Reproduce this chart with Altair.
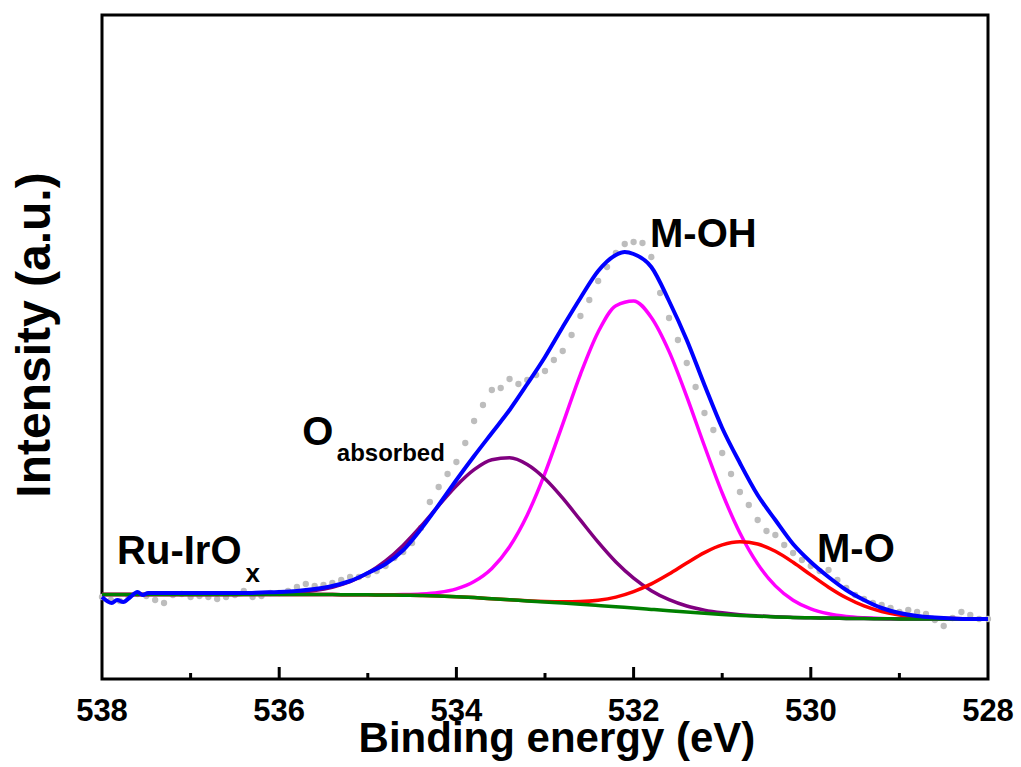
import altair as alt
import pandas as pd

FONT = "Liberation Sans"

# Binding energy grid (eV) of the fitted components
be_fit = [538.0, 537.8, 537.6, 537.4, 537.2, 537.0, 536.8, 536.6, 536.4, 536.2,
          536.0, 535.8, 535.6, 535.4, 535.2, 535.0, 534.8, 534.6, 534.4, 534.2,
          534.0, 533.8, 533.6, 533.4, 533.2, 533.0, 532.8, 532.6, 532.4, 532.2,
          532.0, 531.8, 531.6, 531.4, 531.2, 531.0, 530.8, 530.6, 530.4, 530.2,
          530.0, 529.8, 529.6, 529.4, 529.2, 529.0, 528.8, 528.6, 528.4, 528.2,
          528.0]

# Shirley-type background
background = [84.5, 84.5, 84.5, 84.5, 84.5, 84.5, 84.5, 84.5, 84.5, 84.5,
              84.5, 84.5, 84.5, 84.4, 84.3, 84.2, 84.0, 83.8, 83.5, 83.0,
              82.3, 81.4, 80.3, 79.2, 78.1, 77.0, 76.0, 74.8, 73.5, 72.2,
              71.0, 69.6, 68.2, 66.9, 65.7, 64.6, 63.6, 62.8, 62.1, 61.6,
              61.2, 60.9, 60.6, 60.4, 60.2, 60.1, 60.0, 60.0, 60.0, 60.0,
              60.0]

# M-OH component (on background)
m_oh = [84.5, 84.5, 84.5, 84.5, 84.5, 84.5, 84.5, 84.5, 84.5, 84.5,
        84.5, 84.5, 84.5, 84.4, 84.3, 84.2, 84.2, 84.4, 85.0, 86.6,
        90.2, 97.5, 110.6, 132.3, 164.1, 205.9, 254.9, 304.7, 347.0, 373.3,
        378.1, 361.5, 327.6, 282.4, 233.0, 186.0, 146.0, 115.1, 93.1, 78.8,
        70.1, 65.2, 62.5, 61.2, 60.5, 60.2, 60.0, 60.0, 60.0, 60.0,
        60.0]

# O absorbed component (on background)
o_abs = [84.5, 84.5, 84.5, 84.5, 84.5, 84.5, 84.5, 84.5, 84.7, 84.9,
         85.4, 86.5, 88.4, 91.8, 97.3, 105.9, 118.0, 133.8, 152.8, 173.4,
         193.2, 209.3, 219.2, 221.2, 214.5, 200.3, 180.9, 158.8, 136.8, 117.0,
         100.9, 88.3, 79.3, 73.0, 68.9, 66.2, 64.3, 63.1, 62.2, 61.6,
         61.2, 60.9, 60.6, 60.4, 60.2, 60.1, 60.0, 60.0, 60.0, 60.0,
         60.0]

# M-O component (on background)
m_o = [84.5, 84.5, 84.5, 84.5, 84.5, 84.5, 84.5, 84.5, 84.5, 84.5,
       84.5, 84.5, 84.5, 84.4, 84.3, 84.2, 84.0, 83.8, 83.5, 83.0,
       82.3, 81.4, 80.3, 79.2, 78.3, 77.6, 77.3, 77.5, 78.8, 81.9,
       87.4, 95.1, 105.0, 116.0, 126.4, 134.1, 137.2, 135.0, 127.7, 116.7,
       104.1, 91.8, 81.2, 73.1, 67.5, 64.0, 61.9, 60.9, 60.4, 60.2,
       60.1]

# Fitted envelope
be_env = [538.0, 537.89, 537.83, 537.76, 537.68, 537.6, 537.54, 537.48, 537.4, 537.2,
          537.0, 536.8, 536.6, 536.4, 536.2, 536.0, 535.8, 535.6, 535.4, 535.2,
          535.0, 534.8, 534.6, 534.4, 534.2, 534.0, 533.8, 533.6, 533.4, 533.2,
          533.0, 532.8, 532.6, 532.4, 532.2, 532.1, 532.0, 531.8, 531.6, 531.4,
          531.2, 531.0, 530.8, 530.6, 530.4, 530.2, 530.0, 529.8, 529.6, 529.4,
          529.2, 529.0, 528.8, 528.6, 528.4, 528.2, 528.0]
envelope = [82, 76, 79, 77, 82, 87, 84, 86, 86, 86,
            86, 86, 86, 86, 86.5, 87, 88, 90, 93, 98,
            106, 115, 129, 150, 174, 199, 223, 246, 269, 295,
            322, 352, 381, 408, 424, 427, 425, 412, 378, 339,
            294, 251, 216, 184, 159, 135, 117, 102, 89, 79,
            71, 66, 63, 61.5, 60.5, 60, 60]

# Measured spectrum, 0.1 eV step
be_raw = [538.0, 537.9, 537.8, 537.7, 537.6, 537.5, 537.4, 537.3, 537.2, 537.1,
          537.0, 536.9, 536.8, 536.7, 536.6, 536.5, 536.4, 536.3, 536.2, 536.1,
          536.0, 535.9, 535.8, 535.7, 535.6, 535.5, 535.4, 535.3, 535.2, 535.1,
          535.0, 534.9, 534.8, 534.7, 534.6, 534.5, 534.4, 534.3, 534.2, 534.1,
          534.0, 533.9, 533.8, 533.7, 533.6, 533.5, 533.4, 533.3, 533.2, 533.1,
          533.0, 532.9, 532.8, 532.7, 532.6, 532.5, 532.4, 532.3, 532.2, 532.1,
          532.0, 531.9, 531.8, 531.7, 531.6, 531.5, 531.4, 531.3, 531.2, 531.1,
          531.0, 530.9, 530.8, 530.7, 530.6, 530.5, 530.4, 530.3, 530.2, 530.1,
          530.0, 529.9, 529.8, 529.7, 529.6, 529.5, 529.4, 529.3, 529.2, 529.1,
          529.0, 528.9, 528.8, 528.7, 528.6, 528.5, 528.4, 528.3, 528.2, 528.1,
          528.0]
raw = [82, 79, 78, 82, 85, 83, 79, 76, 84, 85,
       82, 83, 82, 80, 82, 84, 88, 82, 83, 86,
       86, 88, 92, 95, 93, 94, 96, 99, 102, 102,
       104, 108, 113, 121, 127, 136, 151, 177, 192, 205,
       217, 236, 258, 274, 289, 291, 300, 295, 299, 304,
       308, 319, 328, 344, 363, 379, 398, 412, 426, 435,
       437, 436, 422, 386, 361, 339, 316, 292, 266, 249,
       226, 205, 187, 174, 159, 148, 144, 134, 126, 119,
       113, 108, 109, 99, 91, 84, 80, 76, 74, 71,
       67, 69, 67, 65, 59, 53, 61, 67, 64, 60,
       60]

x_labels = [538, 536, 534, 532, 530, 528]
major_ticks = [536, 534, 532, 530]
minor_ticks = [537, 535, 533, 531, 529]

x_scale = alt.Scale(domain=[528, 538], reverse=True, nice=False, zero=False)
y_scale = alt.Scale(domain=[0, 664], nice=False, zero=True)

# The frame, inward ticks, tick labels and axis titles are drawn as marks
X = alt.X("be:Q", scale=x_scale, axis=None)
Y = alt.Y("v:Q", scale=y_scale, axis=None)


def curve(be, vals, color, width):
    df = pd.DataFrame({"be": be, "v": vals})
    return alt.Chart(df).mark_line(
        color=color, strokeWidth=width, interpolate="monotone"
    ).encode(x=X, y=Y)


raw_df = pd.DataFrame({"be": be_raw, "v": raw})
points = alt.Chart(raw_df).mark_circle(size=40, color="#bdbdbd", opacity=1).encode(x=X, y=Y)

lines = [
    curve(be_fit, m_oh, "#ff00ff", 3.5),
    curve(be_fit, o_abs, "#800080", 3.5),
    curve(be_fit, m_o, "#ff0000", 3.5),
    curve(be_fit, background, "#008000", 3.5),
    curve(be_env, envelope, "#0000ff", 4),
]


# inward-pointing ticks rising from the bottom frame (length in intensity units)
def tick_marks(values, length):
    df = pd.DataFrame({"be": values, "v": [0] * len(values), "v2": [length] * len(values)})
    return alt.Chart(df).mark_rule(color="black", strokeWidth=3).encode(
        x=X, y=Y, y2="v2:Q",
    )


major = tick_marks(major_ticks, 12)
minor = tick_marks(minor_ticks, 6)

# tick labels below the frame
tick_label_df = pd.DataFrame({"be": x_labels, "v": [-42] * len(x_labels)})
tick_labels = alt.Chart(tick_label_df).mark_text(
    font=FONT, fontSize=31, fontWeight="bold", color="black",
    align="center", baseline="alphabetic",
).encode(x=X, y=Y, text=alt.Text("be:Q", format="d"))


def label(text, be, v, size, align="left", angle=0):
    return alt.Chart().mark_text(
        text=text, font=FONT, fontSize=size, fontWeight="bold", color="black",
        align=align, baseline="alphabetic", angle=angle,
    ).encode(
        x=alt.X(datum=be, scale=x_scale, axis=None),
        y=alt.Y(datum=v, scale=y_scale, axis=None),
    )


labels = [
    label("Binding energy (eV)", 532.865, -73, 42, align="center"),
    label("Intensity (a.u.)", 538.587, 344, 48, align="center", angle=270),
    label("Ru-IrO", 537.83, 115, 40),
    label("x", 536.38, 97, 26),
    label("O", 535.74, 234, 40),
    label("absorbed", 535.35, 218, 24),
    label("M-OH", 531.815, 432, 40),
    label("M-O", 529.93, 117, 40),
]

chart = alt.layer(points, *lines, major, minor, tick_labels, *labels).properties(
    width=886,
    height=664,
    autosize=alt.AutoSizeParams(type="none"),
    padding={"left": 102, "top": 15, "right": 33, "bottom": 88},
    background="white",
).configure_view(stroke="black", strokeWidth=3)

chart.save("out.html", embed_options={"renderer": "svg", "actions": False})
